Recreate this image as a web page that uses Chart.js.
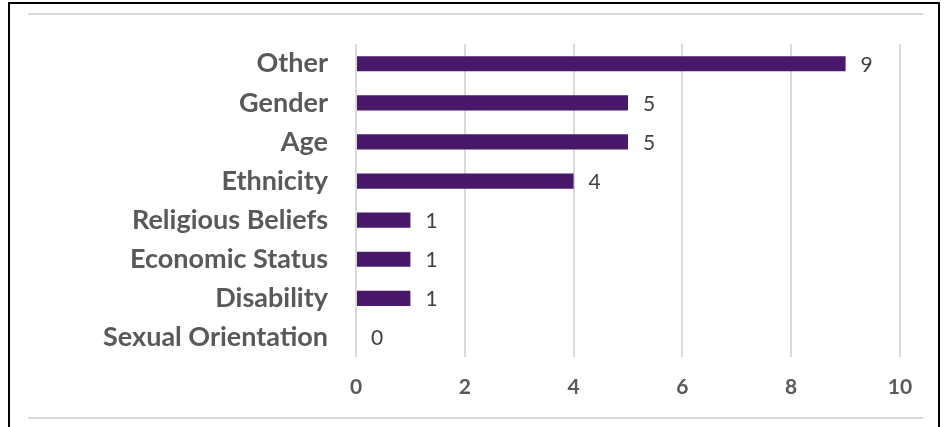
<!DOCTYPE html>
<html><head><meta charset="utf-8">
<script src="https://cdn.jsdelivr.net/npm/chart.js@4.4.0/dist/chart.umd.min.js"></script>
<style>
html,body{margin:0;padding:0;background:#fff;width:948px;height:427px;overflow:hidden;}
#frame{position:absolute;left:8px;top:2px;width:932px;height:440px;border:2px solid #000;box-sizing:border-box;}
.hl{position:absolute;left:28px;width:895px;height:2px;background:#d9d9d9;}
#wrap{position:absolute;left:0;top:0;width:948px;height:427px;}
</style></head><body>
<div id="frame"></div>
<div class="hl" style="top:13px"></div>
<div class="hl" style="top:417px"></div>
<div id="wrap"><canvas id="c" width="948" height="427"></canvas></div>
<script>
const categories = ["Other","Gender","Age","Ethnicity","Religious Beliefs","Economic Status","Disability","Sexual Orientation"];
const values = [9,5,5,4,1,1,1,0];
const xTicks = [0,2,4,6,8,10];

const FONT = 'Lato';
const dataLabels = {
  id:'dataLabels',
  afterDatasetsDraw(chart){
    const ctx = chart.ctx;
    const meta = chart.getDatasetMeta(0);
    ctx.save();
    ctx.font = '400 21px ' + FONT;
    ctx.fillStyle = '#404040';
    ctx.textBaseline = 'middle';
    ctx.textAlign = 'left';
    meta.data.forEach((bar,i)=>{
      ctx.fillText(String(values[i]), bar.x + 15, bar.y + 1);
    });
    ctx.restore();
  }
};

new Chart(document.getElementById('c'), {
  type:'bar',
  data:{labels:categories, datasets:[{data:values, backgroundColor:'#4a186b', categoryPercentage:0.39, barPercentage:1.0}]},
  options:{
    indexAxis:'y',
    responsive:false,
    animation:false,
    layout:{padding:{left:0,right:48,top:43,bottom:0}},
    plugins:{legend:{display:false},tooltip:{enabled:false}},
    scales:{
      x:{
        min:0,max:10,
        afterBuildTicks(s){ s.ticks = xTicks.map(v=>({value:v})); },
        grid:{color:'#d9d9d9',lineWidth:2,drawTicks:false},
        border:{display:false},
        ticks:{color:'#595959',font:{family:FONT,size:21,weight:'bold'},padding:18},
        afterFit(s){ s.height = 70; }
      },
      y:{
        grid:{display:false,drawTicks:false},
        border:{display:false},
        ticks:{color:'#595959',font:{family:FONT,size:27,weight:'bold'},padding:28},
        afterFit(s){ s.width = 356; }
      }
    }
  },
  plugins:[dataLabels]
});
</script>
</body></html>
